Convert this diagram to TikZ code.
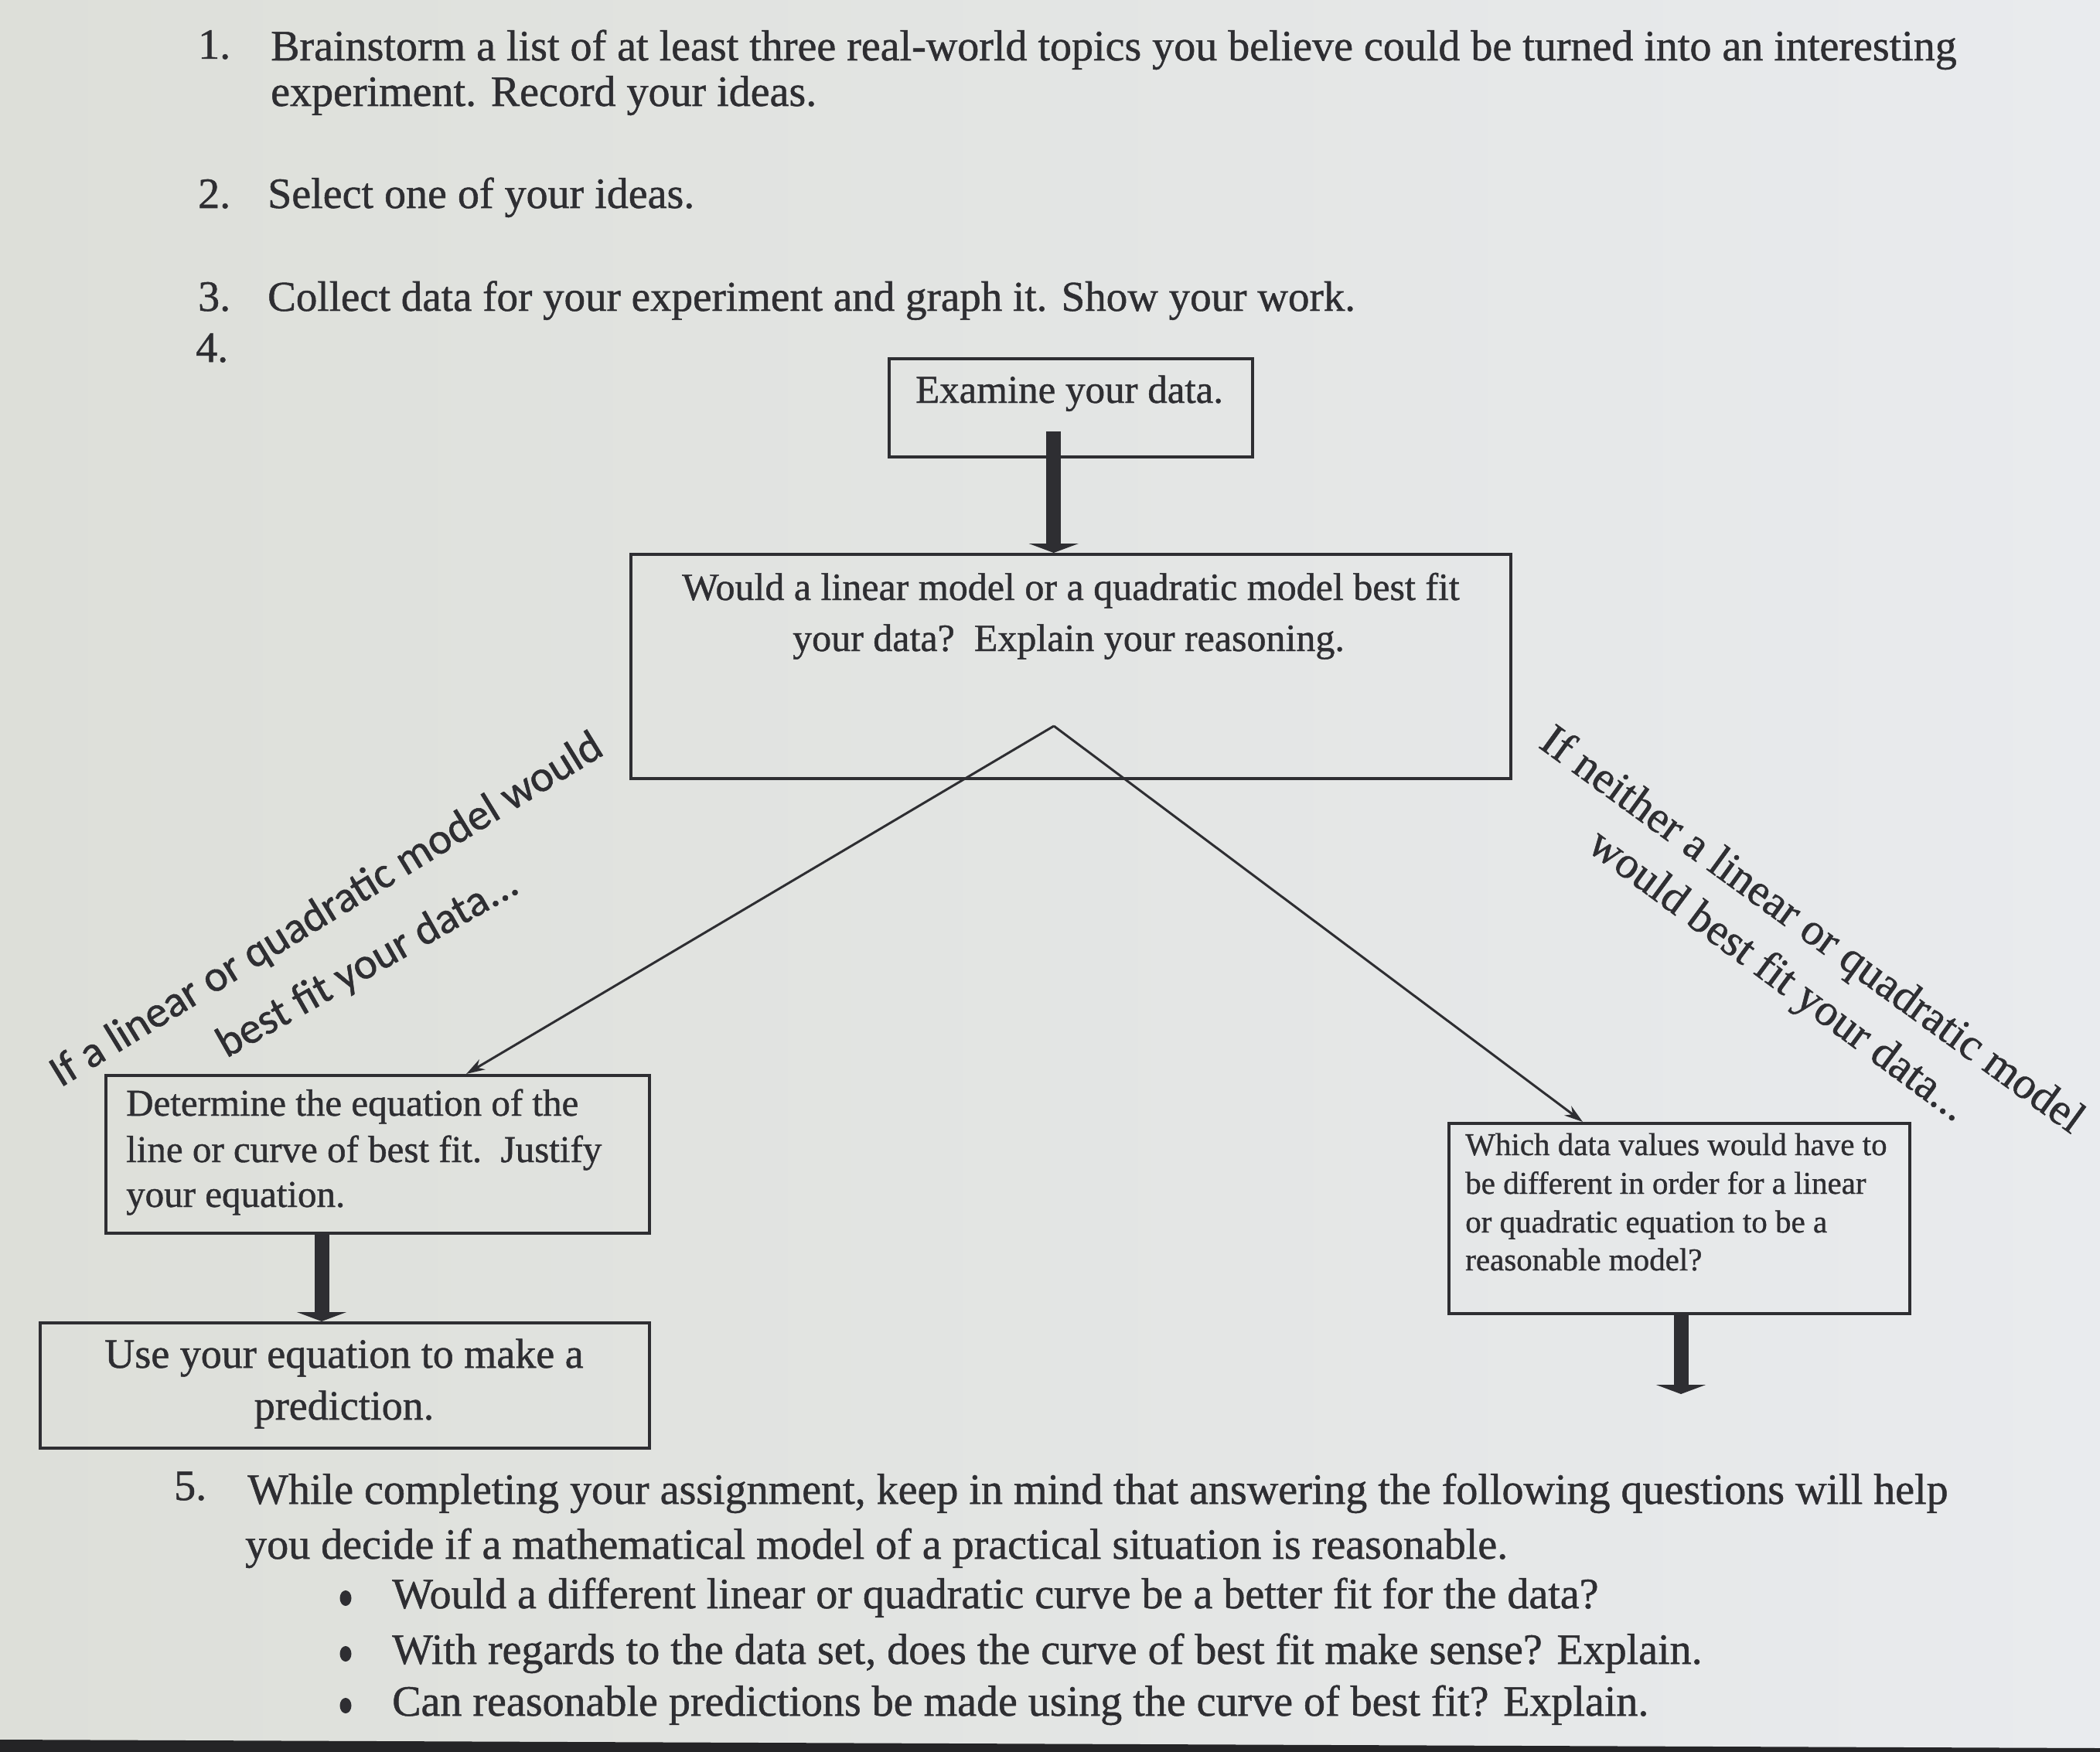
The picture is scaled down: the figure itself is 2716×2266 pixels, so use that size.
\documentclass[tikz,border=0pt]{standalone}
\usepackage{fontspec}
\setmainfont[FakeBold=0.9]{Liberation Serif}
\newfontfamily\calib[FakeBold=0.9]{Carlito}
\usetikzlibrary{arrows.meta,calc,shapes.geometric}
\definecolor{ink}{RGB}{46,46,50}
\definecolor{paperL}{RGB}{221,223,217}
\definecolor{paperR}{RGB}{233,235,238}
\definecolor{edge}{RGB}{36,36,38}
\begin{document}
\begin{tikzpicture}[x=1pt,y=-1pt,
  txt/.style={inner sep=0pt, text=ink, anchor=base west, font=\fontsize{56}{62}\selectfont},
  boxtxt/.style={inner sep=0pt, text=ink, font=\fontsize{#1}{#1}\selectfont},
  box/.style={draw=ink, line width=3.5pt, inner sep=0pt, anchor=north west},
  bar/.style={draw=ink, line width=19pt, -{Triangle[width=64pt,length=12pt]}},
  diag/.style={draw=ink, line width=3pt, -{Stealth[length=24pt,width=15pt]}},
  rottxt/.style={inner sep=0pt, text=ink, anchor=center},
  bul/.style={fill=ink, ellipse, inner sep=0pt, minimum width=15pt, minimum height=20pt}
]
\fill[left color=paperL, right color=paperR] (0,0) rectangle (2716,2266);
\useasboundingbox (0,0) rectangle (2716,2266);
\fill[edge] (0,2250) -- (2716,2261) -- (2716,2266) -- (0,2266) -- cycle;

% numbered items
\node[txt] (n1) at (256,76) {1.};
\node[txt] (t1a) at (350,78) {Brainstorm a list of at least three real-world topics you believe could be turned into an interesting};
\node[txt] (t1b) at (350,137) {experiment. Record your ideas.};
\node[txt] (n2) at (256,269) {2.};
\node[txt] (t2) at (346,269) {Select one of your ideas.};
\node[txt] (n3) at (256,402) {3.};
\node[txt, font=\fontsize{55}{62}\selectfont] (t3) at (346,402) {Collect data for your experiment and graph it. Show your work.};
\node[txt] (n4) at (253,468) {4.};

% flow chart boxes
\node[box, minimum width=470pt, minimum height=127pt] (exam) at (1148,462) {};
\node[boxtxt=51, anchor=base] (examt) at (1383,521) {Examine your data.};

\node[box, minimum width=1138pt, minimum height=290pt] (q) at (814,715) {};
\node[boxtxt=50, anchor=base] (qa) at (1385,776) {Would a linear model or a quadratic model best fit};
\node[boxtxt=50, anchor=base] (qb) at (1382,842) {your data?\ \ Explain your reasoning.};

\node[box, minimum width=703pt, minimum height=204pt] (det) at (135,1389) {};
\node[boxtxt=49, anchor=base west] (deta) at (163,1443) {Determine the equation of the};
\node[boxtxt=49, anchor=base west] (detb) at (163,1503) {line or curve of best fit.\ \ Justify};
\node[boxtxt=49, anchor=base west] (detc) at (163,1561) {your equation.};

\node[box, minimum width=788pt, minimum height=162pt] (pred) at (50,1709) {};
\node[boxtxt=54, anchor=base] (preda) at (445,1769) {Use your equation to make a};
\node[boxtxt=54, anchor=base] (predb) at (445,1836) {prediction.};

\node[box, minimum width=596pt, minimum height=246pt] (rb) at (1872,1451) {};
\node[boxtxt=41, anchor=base west] (rba) at (1895,1494) {Which data values would have to};
\node[boxtxt=41, anchor=base west] (rbb) at (1895,1544) {be different in order for a linear};
\node[boxtxt=41, anchor=base west] (rbc) at (1895,1594) {or quadratic equation to be a};
\node[boxtxt=41, anchor=base west] (rbd) at (1895,1643) {reasonable model?};

% connectors
\coordinate (apex) at (1363,939);
\coordinate (rbend) at (2174,1803);
\draw[bar] ($(exam.south)+(-22,-35)$) -- ($(q.north)+(-22,0)$);
\draw[diag] (apex) -- ($(det.north west)+(468,0)$);
\draw[diag] (apex) -- ($(rb.north west)+(175,0)$);
\draw[bar] ($(det.south west)+(281,0)$) -- ($(pred.north west)+(366,0)$);
\draw[bar] ($(rb.south west)+(302,0)$) -- (rbend);

% branch labels
\node[rottxt, rotate=31.5, font=\calib\fontsize{57}{57}\selectfont] (la) at (423,1178) {If a linear or quadratic model would};
\node[rottxt, rotate=29.5, font=\calib\fontsize{57}{57}\selectfont] (lb) at (476,1248) {best fit your data...};
\node[rottxt, rotate=-36, font=\fontsize{58}{58}\selectfont] (ra) at (2342,1205) {If neither a linear or quadratic model};
\node[rottxt, rotate=-36.5, font=\fontsize{58}{58}\selectfont] (rbl) at (2298,1264) {would best fit your data...};

% item 5
\node[txt] (n5) at (225,1940) {5.};
\node[txt] (t5a) at (320,1945) {While completing your assignment, keep in mind that answering the following questions will help};
\node[txt] (t5b) at (317,2016) {you decide if a mathematical model of a practical situation is reasonable.};
\node[bul] (b1) at (447,2067) {};
\node[txt] (u1) at (507,2080) {Would a different linear or quadratic curve be a better fit for the data?};
\node[bul] (b2) at (447,2139) {};
\node[txt] (u2) at (507,2152) {With regards to the data set, does the curve of best fit make sense? Explain.};
\node[bul] (b3) at (447,2206) {};
\node[txt] (u3) at (507,2219) {Can reasonable predictions be made using the curve of best fit? Explain.};
\end{tikzpicture}
\end{document}
